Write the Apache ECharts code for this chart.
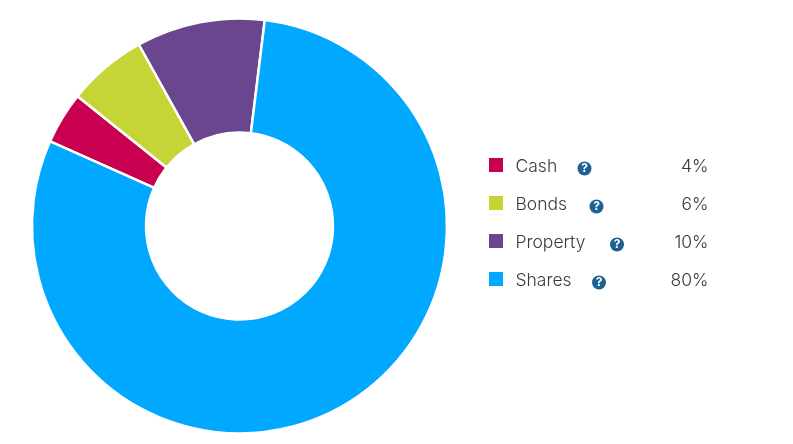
<!DOCTYPE html>
<html lang="en">
<head>
<meta charset="utf-8">
<style>
    html,body{margin:0;padding:0;background:#fff;}
    #chart{width:793px;height:444px;}
</style>
<script src="https://cdn.jsdelivr.net/npm/echarts@6/dist/echarts.min.js"></script>
</head>
<body>
<div id="chart"></div>
<script>
    var categories = ['Cash', 'Bonds', 'Property', 'Shares'];
    var percentLabels = ['4%', '6%', '10%', '80%'];
    // slices, a little off the rounded labels
    var sliceValues = [4.05, 6.2, 10, 79.75];
    var colors = ['#c8004f', '#c5d536', '#6a468f', '#00a8ff'];
    var helpBadgeX = [584.5, 596.5, 617, 599];
    var fontName = 'Inter';
    var fontSize = 17.5;

    var chart = echarts.init(document.getElementById('chart'), null, {renderer: 'canvas'});

    // name, help badge and right aligned percent beside each legend swatch
    var extras = [];
    categories.forEach(function (name, i) {
        var y = 166.5 + i * 38;
        var x = helpBadgeX[i];
        extras.push({
            type: 'text', silent: true, x: 515.5, y: y,
            style: {text: name, fill: '#3a3a3a', font: '300 ' + fontSize + 'px ' + fontName, align: 'left', verticalAlign: 'middle'}
        });
        extras.push({
            type: 'circle', silent: true,
            shape: {cx: x, cy: y + 2, r: 7},
            style: {fill: '#1b6292'}
        });
        extras.push({
            type: 'text', silent: true, x: x, y: y + 2,
            style: {text: '?', fill: '#fff', font: 'bold 12px ' + fontName, align: 'center', verticalAlign: 'middle'}
        });
        extras.push({
            type: 'text', silent: true, x: 708.5, y: y,
            style: {text: percentLabels[i], fill: '#3a3a3a', font: '300 ' + fontSize + 'px ' + fontName, align: 'right', verticalAlign: 'middle'}
        });
    });

    chart.setOption({
        animation: false,
        color: colors,
        legend: {
            orient: 'vertical',
            left: 489,
            top: 158,
            padding: 0,
            itemWidth: 14,
            itemHeight: 14,
            itemGap: 24,
            icon: 'rect',
            selectedMode: false,
            data: categories,
            itemStyle: {borderWidth: 0},
            formatter: function () { return ' '; },
            textStyle: {fontSize: 10, lineHeight: 10}
        },
        series: [{
            type: 'pie',
            center: [239.5, 226],
            radius: [93.5, 207.5],
            startAngle: 155.9,
            clockwise: true,
            label: {show: false},
            labelLine: {show: false},
            itemStyle: {borderColor: '#fff', borderWidth: 2.5},
            data: categories.map(function (name, i) {
                return {name: name, value: sliceValues[i]};
            })
        }],
        graphic: extras
    });
</script>
</body>
</html>
